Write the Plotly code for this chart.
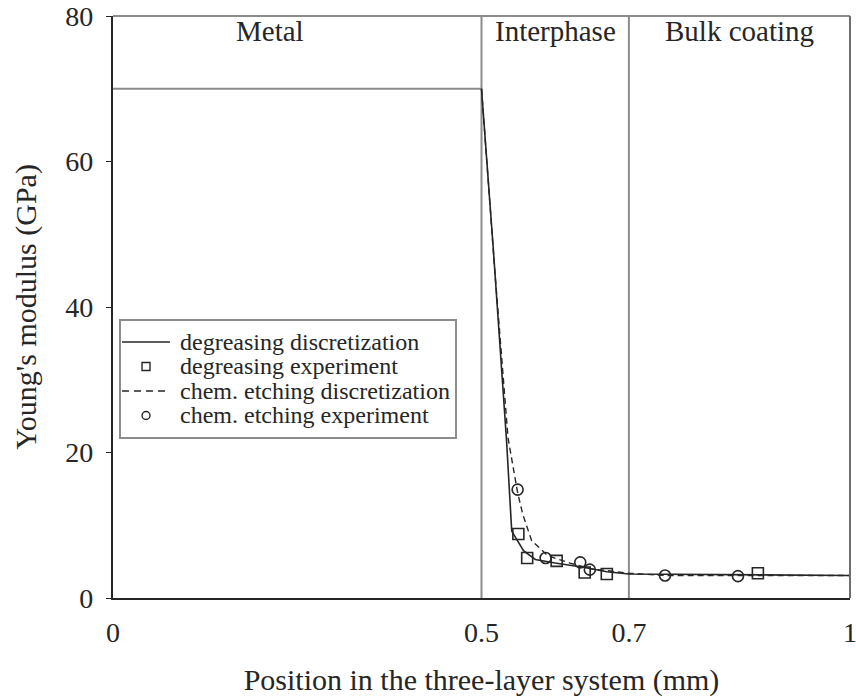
import plotly.graph_objects as go

# Layer boundaries (mm) and layer names
layer_edges = [0.0, 0.5, 0.7, 1.0]
layer_names = ["Metal", "Interphase", "Bulk coating"]
metal_modulus = 70.0

# Discretized modulus profiles (GPa)
deg_disc_x = [0.5, 0.516, 0.534, 0.541, 0.557, 0.573, 0.60, 0.64, 0.67, 0.70, 1.0]
deg_disc_y = [70, 48, 21.6, 9.2, 6.5, 5.3, 4.8, 4.2, 3.6, 3.3, 3.1]

etch_disc_x = [0.5, 0.518, 0.536, 0.549, 0.556, 0.568, 0.59, 0.62, 0.65, 0.70, 0.75, 1.0]
etch_disc_y = [70, 45, 22, 14.5, 11.5, 7.9, 5.8, 4.8, 4.0, 3.4, 3.1, 3.1]

# Measured values
deg_exp_x = [0.550, 0.562, 0.602, 0.640, 0.670, 0.875]
deg_exp_y = [8.8, 5.5, 5.1, 3.5, 3.3, 3.4]

etch_exp_x = [0.549, 0.587, 0.634, 0.647, 0.749, 0.848]
etch_exp_y = [14.9, 5.5, 4.9, 3.9, 3.1, 3.0]

series_names = ["degreasing discretization", "degreasing experiment",
                "chem. etching discretization", "chem. etching experiment"]

x_ticks = [0, 0.5, 0.7, 1]
x_tick_text = ["0", "0.5", "0.7", "1"]
y_ticks = [0, 20, 40, 60, 80]

INK = "#262626"
GRID = "#8c8c8c"
FONT = "Liberation Serif"

fig = go.Figure()

# Metal layer modulus
fig.add_trace(go.Scatter(
    x=[layer_edges[0], layer_edges[1]], y=[metal_modulus, metal_modulus],
    mode="lines", line=dict(color=GRID, width=2.2), showlegend=False, hoverinfo="skip"))

fig.add_trace(go.Scatter(
    x=deg_disc_x, y=deg_disc_y, mode="lines", name=series_names[0],
    line=dict(color=INK, width=1.6), showlegend=False))
fig.add_trace(go.Scatter(
    x=deg_exp_x, y=deg_exp_y, mode="markers", name=series_names[1], showlegend=False,
    marker=dict(symbol="square-open", size=11, color=INK, line=dict(width=1.6))))
fig.add_trace(go.Scatter(
    x=etch_disc_x, y=etch_disc_y, mode="lines", name=series_names[2], showlegend=False,
    line=dict(color=INK, width=1.4, dash="6px,4px")))
fig.add_trace(go.Scatter(
    x=etch_exp_x, y=etch_exp_y, mode="markers", name=series_names[3], showlegend=False,
    marker=dict(symbol="circle-open", size=11, color=INK, line=dict(width=1.6))))

# Interface lines between layers
for xe in layer_edges[1:-1]:
    fig.add_shape(type="line", x0=xe, x1=xe, y0=0, y1=80, xref="x", yref="y",
                  line=dict(color=GRID, width=2), layer="below")

# Top and right frame edges (lighter than the axes)
fig.add_shape(type="line", x0=0, x1=1, y0=1, y1=1, xref="paper", yref="paper",
              line=dict(color=GRID, width=2))
fig.add_shape(type="line", x0=1, x1=1, y0=0, y1=1, xref="paper", yref="paper",
              line=dict(color="#6e6e6e", width=2))

# Layer names
label_x = {"Metal": 0.213, "Interphase": 0.6, "Bulk coating": 0.85}
for name in layer_names:
    fig.add_annotation(x=label_x[name], y=78.0, text=name, showarrow=False,
                       xref="x", yref="y", font=dict(family=FONT, size=29, color=INK))

# Legend box with compact rows
lg_x0, lg_x1, lg_y0, lg_y1 = 0.0095, 0.4654, 0.2749, 0.4777
fig.add_shape(type="rect", x0=lg_x0, x1=lg_x1, y0=lg_y0, y1=lg_y1,
              xref="paper", yref="paper", fillcolor="white",
              line=dict(color=GRID, width=2))
row_y = [0.4399, 0.3978, 0.3557, 0.3136]
sx0, sx1, sxc = 0.0122, 0.0773, 0.0448
dx, dy = 0.0054, 0.0069
sample_styles = ["solid", "square", "dash", "circle"]
for name, ry, style in zip(series_names, row_y, sample_styles):
    if style in ("solid", "dash"):
        fig.add_shape(type="line", x0=sx0, x1=sx1, y0=ry, y1=ry,
                      xref="paper", yref="paper",
                      line=dict(color=INK, width=1.6,
                                dash="solid" if style == "solid" else "7px,5px"))
    else:
        fig.add_shape(type="rect" if style == "square" else "circle",
                      x0=sxc - dx, x1=sxc + dx, y0=ry - dy, y1=ry + dy,
                      xref="paper", yref="paper", line=dict(color=INK, width=1.4))
    fig.add_annotation(x=0.0882, y=ry, text=name, showarrow=False,
                       xref="paper", yref="paper", xanchor="left", yanchor="middle",
                       font=dict(family=FONT, size=24, color=INK))

fig.update_layout(
    width=856, height=699,
    margin=dict(l=113, r=6, t=16, b=101),
    paper_bgcolor="white", plot_bgcolor="white",
    font=dict(family=FONT, size=28, color=INK),
    showlegend=False,
)

fig.update_xaxes(
    range=[0, 1], tickvals=x_ticks, ticktext=x_tick_text, ticks="",
    showgrid=False, zeroline=False, showline=True, linecolor=INK, linewidth=2.2,
    ticklabelstandoff=8, ticklabeloverflow="allow", automargin=False,
    tickfont=dict(family=FONT, size=28, color=INK),
    title=dict(text="Position in the three-layer system (mm)", standoff=22,
               font=dict(family=FONT, size=30, color=INK)),
)
fig.update_yaxes(
    range=[0, 80], tickvals=y_ticks, ticks="outside", ticklen=5, tickwidth=1,
    tickcolor=INK, showgrid=False, zeroline=False, showline=True, linecolor=INK,
    linewidth=2.2, ticklabelstandoff=7, ticklabeloverflow="allow", automargin=False,
    tickfont=dict(family=FONT, size=28, color=INK),
    title=dict(text="Young's modulus (GPa)", standoff=20,
               font=dict(family=FONT, size=30, color=INK)),
)

fig.write_html("out.html")
